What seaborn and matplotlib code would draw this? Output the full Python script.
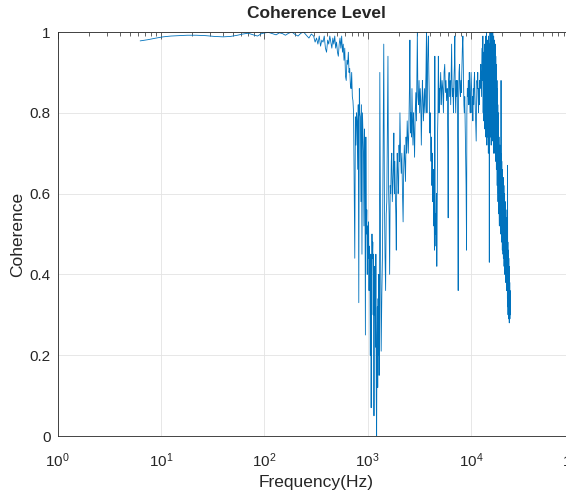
import pandas as pd
import matplotlib
matplotlib.use("Agg")
import matplotlib.pyplot as plt
import seaborn as sns
from matplotlib.ticker import LogLocator, NullFormatter

# values, split by frequency band
low_freq = [6.3, 7.5, 9, 10.5, 12.5, 15, 18, 22, 27, 33, 40, 47, 55, 62, 70, 78, 86, 94,
            102, 110, 120, 130, 140, 150, 160, 172, 185, 198, 212, 226, 240, 255, 270, 285]
low_coh = [0.978, 0.981, 0.985, 0.988, 0.990, 0.991, 0.992, 0.992, 0.991, 0.989, 0.988, 0.989,
           0.992, 0.995, 0.997, 0.993, 0.990, 0.996, 0.998, 0.999, 0.996, 0.993, 0.998, 0.996,
           0.992, 0.997, 1.0, 0.994, 0.990, 0.997, 1.0, 0.992, 0.985, 0.995]

knee_freq = [300, 310, 320, 330, 340, 350, 360, 370, 380, 390, 400, 410, 420, 430, 440, 450,
             460, 470, 480, 490, 500, 510, 520, 530, 540, 550, 560, 570, 580, 590, 600, 610,
             620, 630, 640, 650, 660, 670, 680, 690]
knee_coh = [0.99, 0.975, 0.985, 0.97, 0.99, 0.965, 0.98, 0.975, 0.99, 0.96, 0.95, 0.98, 0.97,
            0.99, 0.975, 0.96, 0.985, 0.97, 0.99, 0.96, 0.975, 0.95, 0.94, 0.97, 0.985, 0.96,
            0.99, 0.95, 0.97, 0.93, 0.96, 0.89, 0.88, 0.93, 0.92, 0.95, 0.90, 0.91, 0.87, 0.86]

drop_freq = [700, 710, 720, 730, 740, 750, 760, 770, 780, 790, 800, 810, 820, 830, 840, 850,
             860, 870, 880, 890, 900, 910, 920, 930, 940, 950, 960, 970, 980, 990, 1000, 1010,
             1020, 1030, 1040, 1050, 1060, 1070, 1080, 1090, 1100, 1110, 1120, 1130, 1140, 1150,
             1160, 1170, 1180, 1190, 1200, 1210, 1220, 1230, 1240, 1250, 1260, 1270, 1280, 1290,
             1300]
drop_coh = [0.90, 0.84, 0.83, 0.80, 0.62, 0.44, 0.79, 0.72, 0.80, 0.78, 0.66, 0.82, 0.33, 0.86,
            0.80, 0.79, 0.58, 0.82, 0.45, 0.80, 0.75, 0.70, 0.52, 0.76, 0.66, 0.25, 0.74, 0.50,
            0.56, 0.40, 0.52, 0.44, 0.53, 0.36, 0.47, 0.42, 0.20, 0.45, 0.07, 0.40, 0.50, 0.44,
            0.48, 0.30, 0.45, 0.05, 0.42, 0.30, 0.38, 0.22, 0.45, 0.10, 0.00, 0.25, 0.32, 0.12,
            0.34, 0.20, 0.40, 0.15, 0.55]

rise_freq = [1310, 1330, 1350, 1370, 1390, 1410, 1430, 1450, 1470, 1490, 1510, 1530, 1550,
             1570, 1590, 1610, 1630, 1650, 1670, 1690, 1710, 1730, 1750, 1770, 1790, 1810,
             1830, 1850, 1870, 1890, 1910, 1930, 1950, 1970, 1990, 2010, 2030, 2050, 2080,
             2110, 2140, 2170, 2200, 2230, 2260, 2290, 2320, 2350, 2380, 2410, 2440, 2470,
             2500, 2530, 2560, 2590, 2620, 2650, 2680, 2710, 2740, 2770, 2800, 2840, 2880,
             2920, 2960, 3000]
rise_coh = [0.90, 0.50, 0.21, 0.35, 0.45, 0.70, 0.97, 0.60, 0.45, 0.36, 0.55, 0.58, 0.75, 0.94,
            0.62, 0.55, 0.40, 0.62, 0.60, 0.68, 0.70, 0.58, 0.62, 0.66, 0.75, 0.60, 0.68, 0.60,
            0.55, 0.46, 0.64, 0.70, 0.66, 0.60, 0.62, 0.72, 0.68, 0.80, 0.70, 0.65, 0.70, 0.60,
            0.53, 0.66, 0.72, 0.68, 0.63, 0.74, 0.70, 0.78, 0.74, 0.70, 0.76, 0.85, 0.98, 0.75,
            0.80, 0.74, 0.86, 0.78, 0.72, 0.80, 0.76, 0.69, 0.80, 0.85, 0.78, 0.92]

mid_freq = [3020, 3060, 3100, 3140, 3180, 3220, 3260, 3300, 3340, 3380, 3420, 3460, 3500,
            3540, 3580, 3620, 3660, 3700, 3740, 3780, 3820, 3860, 3900, 3940, 3980, 4020,
            4060, 4100, 4140, 4180, 4220, 4260, 4300, 4340, 4380, 4420, 4460, 4500, 4540,
            4580, 4620, 4660, 4700, 4740, 4780, 4820, 4860, 4900, 4940, 4980]
mid_coh = [1.00, 0.84, 0.82, 0.88, 0.80, 0.86, 0.83, 0.72, 0.80, 0.88, 0.84, 0.78, 0.82, 0.86,
           0.80, 0.84, 0.90, 1.00, 0.80, 0.90, 0.96, 0.99, 0.90, 0.84, 0.75, 0.80, 0.72, 0.68,
           0.74, 0.62, 0.70, 0.58, 0.66, 0.52, 0.62, 0.46, 0.94, 0.50, 0.55, 0.47, 0.60, 0.42,
           0.56, 0.75, 0.80, 0.94, 0.88, 0.80, 0.86, 0.82]

upper_freq = [5000, 5080, 5160, 5240, 5320, 5400, 5480, 5560, 5640, 5720, 5800, 5880, 5960,
              6000, 6060, 6130, 6200, 6280, 6350, 6420, 6480, 6540, 6600, 6680, 6750, 6820,
              6900, 6960, 7020, 7100, 7180, 7260, 7340, 7420, 7500, 7560, 7640, 7720, 7800,
              7880, 7960, 8050, 8140, 8230, 8330, 8420, 8520, 8600, 8680, 8760, 8850, 8940,
              9040]
upper_coh = [0.85, 0.90, 0.82, 0.88, 0.86, 0.80, 0.90, 0.92, 0.85, 0.88, 0.83, 0.86, 0.70,
             0.54, 0.88, 0.90, 0.84, 0.88, 0.82, 0.90, 0.97, 0.88, 0.84, 0.86, 0.80, 0.88,
             0.92, 0.99, 0.86, 0.80, 0.88, 0.84, 0.88, 0.70, 0.36, 0.82, 0.90, 0.92, 0.86,
             0.84, 0.88, 0.85, 0.90, 0.96, 0.99, 0.90, 0.82, 0.80, 0.84, 0.78, 0.70, 0.62,
             0.46]

high_freq = [9100, 9200, 9300, 9400, 9500, 9600, 9700, 9800, 9900, 10000, 10100, 10200, 10300,
             10400, 10500, 10600, 10700, 10800, 10900, 11000, 11100, 11200, 11300, 11400,
             11500, 11600, 11700, 11800, 11900, 12000, 12100, 12200, 12300, 12400, 12500,
             12600, 12700, 12800, 12900, 13000]
high_coh = [0.80, 0.86, 0.84, 0.88, 0.82, 0.90, 0.84, 0.80, 0.86, 0.90, 0.86, 0.80, 0.84, 0.78,
            0.86, 0.82, 0.88, 0.90, 0.84, 0.80, 0.76, 0.73, 0.82, 0.88, 0.86, 0.90, 0.84, 0.80,
            0.86, 0.82, 0.88, 0.86, 0.90, 0.92, 0.88, 0.84, 0.92, 0.96, 0.88, 0.99]

top_freq = [13080, 13160, 13240, 13320, 13400, 13480, 13560, 13640, 13720, 13800, 13880,
            13960, 14040, 14120, 14200, 14280, 14360, 14440, 14520, 14600, 14680, 14760,
            14840, 14920, 15000, 15080, 15160, 15240, 15320, 15400, 15480, 15560, 15640,
            15720, 15800, 15880, 15960, 16040, 16120, 16200, 16280, 16360, 16440, 16520,
            16600, 16680, 16760, 16840, 16920, 17000, 17080, 17160, 17240, 17320, 17400,
            17480, 17560, 17640, 17720, 17800, 17880, 17960, 18040, 18120, 18200, 18280,
            18360, 18440, 18520, 18600, 18680, 18760, 18840, 18920, 19000, 19080, 19160,
            19240, 19320, 19400, 19480, 19560, 19640, 19720, 19800, 19880, 19960, 20040,
            20120, 20200, 20280, 20360, 20440, 20520, 20600, 20680, 20760, 20840, 20920,
            21000, 21080, 21160, 21240, 21320, 21400, 21480, 21560, 21640, 21720, 21800,
            21880, 21960, 22040, 22120, 22200, 22280, 22360, 22440, 22520, 22600, 22680,
            22760, 22840, 22920, 23000, 23080, 23160, 23240, 23320, 23400, 23480, 23560,
            23640, 23720, 23800, 23880, 23960, 24000]
top_coh = [0.80, 0.95, 0.78, 0.92, 0.85, 0.97, 0.76, 0.94, 0.82, 0.99, 0.74, 0.96, 0.80, 1.00,
           0.72, 0.95, 0.78, 0.98, 0.74, 0.92, 0.70, 0.99, 0.76, 0.94, 0.43, 0.97, 0.80, 1.00,
           0.74, 0.98, 0.78, 1.00, 0.72, 0.99, 0.76, 1.00, 0.73, 0.97, 0.78, 1.00, 0.74, 0.98,
           0.70, 0.99, 0.76, 0.96, 0.72, 0.98, 0.70, 0.95, 0.74, 0.97, 0.68, 0.94, 0.72, 0.92,
           0.66, 0.90, 0.70, 0.88, 0.62, 0.86, 0.64, 0.82, 0.58, 0.80, 0.60, 0.76, 0.55, 0.74,
           0.56, 0.52, 0.70, 0.55, 0.72, 0.52, 0.68, 0.50, 0.70, 0.54, 0.88, 0.50, 0.66, 0.48,
           0.68, 0.50, 0.64, 0.46, 0.66, 0.48, 0.62, 0.45, 0.64, 0.44, 0.60, 0.46, 0.62, 0.42,
           0.58, 0.44, 0.60, 0.40, 0.56, 0.42, 0.58, 0.40, 0.54, 0.38, 0.56, 0.40, 0.52, 0.36,
           0.54, 0.38, 0.50, 0.36, 0.52, 0.34, 0.67, 0.32, 0.48, 0.30, 0.46, 0.32, 0.45, 0.29,
           0.44, 0.30, 0.42, 0.28, 0.40, 0.30, 0.38, 0.29, 0.36, 0.30, 0.34, 0.31]

y_ticks = [0, 0.2, 0.4, 0.6, 0.8, 1]
y_tick_labels = ["0", "0.2", "0.4", "0.6", "0.8", "1"]
x_ticks = [1, 10, 100, 1000, 10000, 100000]


def build_frame():
    freq = (low_freq + knee_freq + drop_freq + rise_freq + mid_freq + upper_freq
            + high_freq + top_freq)
    coh = (low_coh + knee_coh + drop_coh + rise_coh + mid_coh + upper_coh
           + high_coh + top_coh)
    return pd.DataFrame({"Frequency": freq, "Coherence": coh})


def plot_coherence(data):
    sns.set_style("white")
    plt.rcParams['font.family'] = ['Liberation Sans', 'DejaVu Sans']

    fig = plt.figure(figsize=(5.66, 4.95), dpi=100)
    # the right end of the axis runs past the picture edge, as in the reference
    ax = fig.add_axes([57.5 / 566, 59 / 495, 517 / 566, 404 / 495])

    sns.lineplot(data=data, x="Frequency", y="Coherence", ax=ax, color="#0072BD",
                 linewidth=0.6, estimator=None, sort=False)

    ax.set_xscale("log")
    ax.set_xlim(1, 1e5)
    ax.set_ylim(0, 1)
    ax.set_xticks(x_ticks)
    ax.xaxis.set_minor_locator(LogLocator(base=10, subs=range(2, 10), numticks=20))
    ax.xaxis.set_minor_formatter(NullFormatter())
    ax.set_yticks(y_ticks)
    ax.set_yticklabels(y_tick_labels)

    ax.grid(True, which="major", color="#e3e3e3", linewidth=0.6)
    ax.tick_params(which="both", direction="in", top=True, right=True,
                   colors="#262626", labelsize=11, width=0.5)
    ax.tick_params(which="major", length=5)
    ax.tick_params(which="minor", length=3)
    ax.tick_params(axis="x", which="major", pad=11)
    ax.tick_params(axis="y", which="major", pad=5)
    for spine in ax.spines.values():
        spine.set_color("#262626")
        spine.set_linewidth(0.6)

    ax.set_title("Coherence Level", fontsize=12.5, fontweight="bold", pad=10)
    ax.set_xlabel("Frequency(Hz)", fontsize=12.5, color="#262626", labelpad=4)
    ax.set_ylabel("Coherence", fontsize=12.5, color="#262626", labelpad=3)

    fig.savefig("out.png", dpi=100)
    plt.close(fig)


if __name__ == "__main__":
    coherence_data = build_frame()
    plot_coherence(coherence_data)
